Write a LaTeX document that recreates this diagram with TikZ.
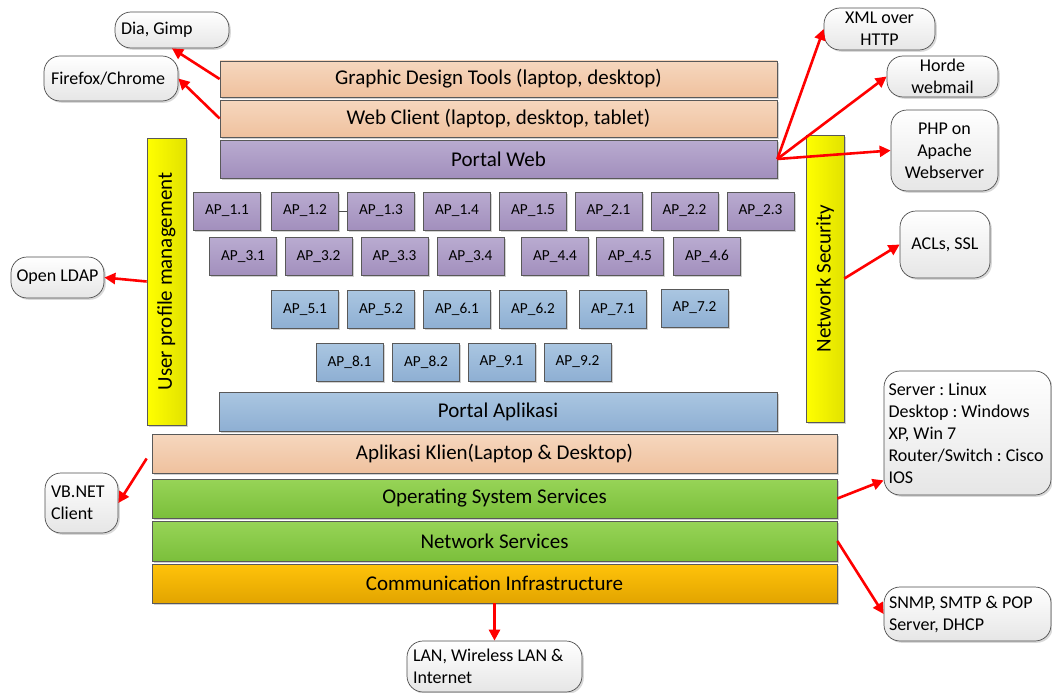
\documentclass[tikz,border=0pt]{standalone}
\usepackage{fontspec}
\setmainfont{Carlito}
\frenchspacing
\usetikzlibrary{shadows,arrows.meta}
\definecolor{peachT}{HTML}{F6D7BE}
\definecolor{peachB}{HTML}{EFC19E}
\definecolor{purpT}{HTML}{B9ABD0}
\definecolor{purpB}{HTML}{A28FBD}
\definecolor{blueT}{HTML}{AAC6E1}
\definecolor{blueB}{HTML}{8EAFD3}
\definecolor{greenT}{HTML}{97D457}
\definecolor{greenB}{HTML}{7BBF3B}
\definecolor{oranT}{HTML}{FFC30A}
\definecolor{oranB}{HTML}{E2A400}
\definecolor{yelL}{HTML}{FFFF00}
\definecolor{yelR}{HTML}{E2E200}
\definecolor{callB}{HTML}{E6E6E6}
\definecolor{arrRed}{HTML}{FF0000}
\begin{document}
\begin{tikzpicture}[x=1pt,y=-1pt,
  base/.style={draw=black!65, line width=0.7pt, inner sep=0pt,
    drop shadow={shadow xshift=1.8pt, shadow yshift=-1.8pt, opacity=0.3, fill=black!60}},
  peach/.style={base, top color=peachT, bottom color=peachB},
  purp/.style={base, top color=purpT, bottom color=purpB},
  bluebox/.style={base, top color=blueT, bottom color=blueB},
  greenbox/.style={base, top color=greenT, bottom color=greenB},
  oranbox/.style={base, top color=oranT, bottom color=oranB},
  yelbar/.style={base, left color=yelL, right color=yelR, minimum width=39pt, minimum height=287pt},
  lay/.style={font=\fontsize{21}{25}\selectfont},
  ap/.style={minimum width=67pt, minimum height=38pt, font=\fontsize{15.3}{18}\selectfont},
  apP/.style={purp, ap},
  apB/.style={bluebox, ap},
  callout/.style={draw=black!70, line width=0.7pt, rounded corners=16pt,
    top color=white, bottom color=callB, font=\fontsize{18}{22}\selectfont,
    drop shadow={shadow xshift=1.8pt, shadow yshift=-1.8pt, opacity=0.25, fill=black!60}},
  cl/.style={callout, align=flush left, inner ysep=0pt},
  cc/.style={callout, align=flush center, inner sep=0pt},
  arr/.style={draw=arrRed, line width=2.6pt, -{Triangle[length=11pt,width=11pt]}}
]
\useasboundingbox (0,0) rectangle (1052,693);

% top layers
\node[peach, lay, minimum width=557pt, minimum height=36pt] (gdt) at (498.5,79) {Graphic Design Tools (laptop, desktop)};
\node[peach, lay, minimum width=557pt, minimum height=37pt] (web) at (498.5,118.5) {Web Client (laptop, desktop, tablet)};
\node[purp, lay, minimum width=557pt, minimum height=38pt] (pw) at (498.5,159) {Portal Web};

% side bars
\node[yelbar] (upm) at (166.5,281.5) {};
\node[rotate=90, lay] (upmt) at (upm.center) {User profile management};
\node[yelbar, minimum width=38pt] (nsec) at (825,278.5) {};
\node[rotate=90, lay] (nsect) at (nsec.center) {Network Security};

% AP rows
\node[apP] (a11) at (227,211) {AP\_1.1};
\node[apP] (a12) at (305,211) {AP\_1.2};
\node[apP] (a13) at (381,211) {AP\_1.3};
\node[apP] (a14) at (457,211) {AP\_1.4};
\node[apP] (a15) at (533,211) {AP\_1.5};
\node[apP] (a21) at (608.5,211) {AP\_2.1};
\node[apP] (a22) at (684.5,211) {AP\_2.2};
\node[apP] (a23) at (760.5,211) {AP\_2.3};
\draw[black!70, line width=0.7pt] (a12.east) -- (a13.west);

\node[apP] (a31) at (243,256.5) {AP\_3.1};
\node[apP] (a32) at (318.5,256.5) {AP\_3.2};
\node[apP] (a33) at (394.5,256.5) {AP\_3.3};
\node[apP] (a34) at (470.5,256.5) {AP\_3.4};
\node[apP] (a44) at (555,256.5) {AP\_4.4};
\node[apP] (a45) at (630,256.5) {AP\_4.5};
\node[apP] (a46) at (707,256.5) {AP\_4.6};

\node[apB] (a51) at (305,309.5) {AP\_5.1};
\node[apB] (a52) at (381,309.5) {AP\_5.2};
\node[apB] (a61) at (457,309.5) {AP\_6.1};
\node[apB] (a62) at (533,309.5) {AP\_6.2};
\node[apB] (a71) at (613,309.5) {AP\_7.1};
\node[apB] (a72) at (694.5,308) {AP\_7.2};

\node[apB] (a81) at (349.5,362) {AP\_8.1};
\node[apB] (a82) at (426,362) {AP\_8.2};
\node[apB] (a91) at (501.5,362) {AP\_9.1};
\node[apB] (a92) at (577.5,362) {AP\_9.2};

% lower layers
\node[bluebox, lay, minimum width=558pt, minimum height=39pt] (pa) at (498,411.5) {Portal Aplikasi};
\node[peach, lay, minimum width=685pt, minimum height=39pt] (ak) at (494.5,453.5) {Aplikasi Klien(Laptop \& Desktop)};
\node[greenbox, lay, minimum width=685pt, minimum height=39pt] (os) at (494.5,498.5) {Operating System Services};
\node[greenbox, lay, minimum width=685pt, minimum height=40pt] (ns) at (494.5,541) {Network Services};
\node[oranbox, lay, minimum width=685pt, minimum height=39pt] (ci) at (494.5,583.5) {Communication Infrastructure};

% callouts
\node[cl, inner xsep=6pt, text width=102pt, minimum height=36pt] (dia) at (172,30) {Dia, Gimp};
\node[cl, inner xsep=7pt, text width=120pt, minimum height=45pt] (ff) at (111,78.5) {Firefox/Chrome};
\node[cc, minimum width=111pt, minimum height=42pt] (xml) at (879.5,29) {XML over\\HTTP};
\node[cc, minimum width=111pt, minimum height=41pt] (horde) at (942.5,76.5) {Horde\\webmail};
\node[cc, minimum width=107pt, minimum height=81pt] (php) at (944.5,150.5) {PHP on\\Apache\\Webserver};
\node[cc, minimum width=90pt, minimum height=67pt] (acl) at (945,244.5) {ACLs, SSL};
\node[cc, minimum width=93pt, minimum height=41pt] (ldap) at (57.5,277.5) {Open LDAP};
\node[cl, inner xsep=6pt, text width=61pt, minimum height=60pt] (vb) at (81.5,503) {VB.NET\\Client};
\node[cl, inner xsep=4.5pt, text width=158pt, minimum height=124pt] (server) at (967.5,433) {Server : Linux\\Desktop : Windows\\XP, Win 7\\Router/Switch\mbox{ : }Cisco\\IOS};
\node[cl, inner xsep=5pt, text width=157pt, minimum height=54pt] (snmp) at (967.5,614) {SNMP, SMTP \& POP\\Server, DHCP};
\node[cl, inner xsep=6pt, text width=163pt, minimum height=51pt] (lan) at (494.5,666.5) {LAN, Wireless LAN \&\\Internet};

% arrows
\draw[arr] (gdt.west) -- (dia.south);
\draw[arr] (web.west) -- (ff.east);
\draw[arr] (pw.east) -- (xml.west);
\draw[arr] (pw.east) -- (horde.west);
\draw[arr] (pw.east) -- (php.west);
\draw[arr] (nsec.east) -- (acl.west);
\draw[arr] (upm.west) -- (ldap.east);
\draw[arr] ([xshift=-5pt,yshift=-5pt]ak.west) -- (vb.east);
\draw[arr] (os.east) -- ([yshift=15pt]server.south west);
\draw[arr] (ns.east) -- (snmp.west);
\draw[arr] (ci.south) -- (lan.north);
\end{tikzpicture}
\end{document}
